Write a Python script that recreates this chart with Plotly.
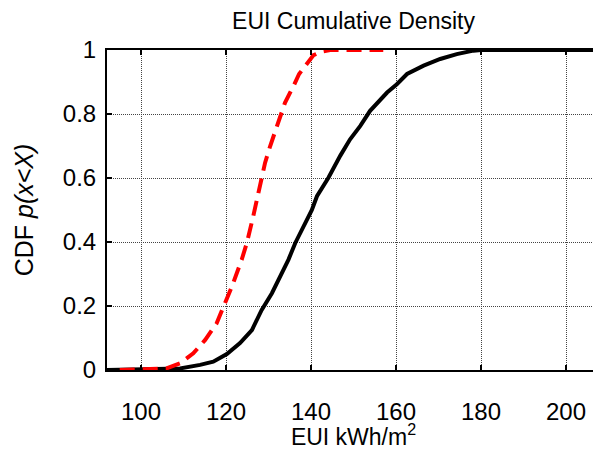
import plotly.graph_objects as go

# Data
red_x = [95, 106, 109.2, 112.3, 115.1, 117.8, 119.6, 121.4, 123.7, 124.9, 126.4, 127.6,
         128.4, 129.2, 130.4, 132.0, 132.6, 133.9, 135.9, 137.2, 140.6, 142.5, 144.5, 157]
red_y = [0, 0.005, 0.021, 0.052, 0.094, 0.146, 0.204, 0.261, 0.345, 0.397, 0.48, 0.554,
         0.606, 0.648, 0.70, 0.763, 0.794, 0.836, 0.888, 0.925, 0.984, 0.995, 1.0, 1.0]

black_x = [92, 109.2, 113.9, 117, 120.2, 123.3, 126.1, 128.4, 130.8, 132.7, 134.7, 136.3,
           138.2, 140.2, 141.4, 144.1, 146.9, 149.2, 151.6, 153.9, 157.9, 160.2, 162.6,
           166.5, 170.4, 174.3, 178.2, 180, 208]
black_y = [0, 0.005, 0.016, 0.026, 0.05, 0.084, 0.125, 0.188, 0.24, 0.292, 0.345, 0.397,
           0.449, 0.50, 0.543, 0.601, 0.67, 0.721, 0.763, 0.81, 0.867, 0.893, 0.925,
           0.951, 0.972, 0.987, 0.998, 1.0, 1.0]

x_ticks = [100, 120, 140, 160, 180, 200]
x_tick_labels = ["100", "120", "140", "160", "180", "200"]
y_ticks = [0, 0.2, 0.4, 0.6, 0.8, 1]
y_tick_labels = ["0", "0.2", "0.4", "0.6", "0.8", "1"]

FONT = "Liberation Sans, Arial, sans-serif"

fig = go.Figure()
fig.add_trace(go.Scatter(x=black_x, y=black_y, mode="lines",
                         line=dict(color="black", width=4), cliponaxis=False,
                         showlegend=False))
fig.add_trace(go.Scatter(x=red_x, y=red_y, mode="lines",
                         line=dict(color="#ff0000", width=4, dash="15px,8px"),
                         cliponaxis=False, showlegend=False))

axis_common = dict(
    showline=True, linecolor="black", linewidth=2, mirror="ticks",
    ticks="inside", ticklen=5, tickwidth=2, tickcolor="black",
    showgrid=True, gridcolor="#444444", gridwidth=1, griddash="1px,1px",
    zeroline=False, automargin=False,
    tickfont=dict(family=FONT, size=24, color="black"),
)

fig.update_xaxes(range=[92, 208], tickvals=x_ticks, ticktext=x_tick_labels,
                 ticklabelstandoff=19,
                 title=dict(text="EUI kWh/m<sup>2</sup>", standoff=12,
                            font=dict(family=FONT, size=23, color="black")),
                 **axis_common)
fig.update_yaxes(range=[0, 1], tickvals=y_ticks, ticktext=y_tick_labels,
                 ticklabelstandoff=4,
                 title=dict(text="CDF <i>p(x&lt;X)</i>", standoff=22,
                            font=dict(family=FONT, size=25, color="black")),
                 **axis_common)

# The page body adds an 8px offset; the figure is sized to compensate.
fig.update_layout(
    width=593, height=442,
    margin=dict(l=99, r=1, t=42, b=80),
    paper_bgcolor="white", plot_bgcolor="white",
    title=dict(text="EUI Cumulative Density", xref="paper", x=0.5, xanchor="center",
               yref="container", y=0.9706, yanchor="middle",
               font=dict(family=FONT, size=23, color="black")),
)

fig.write_html("out.html")
